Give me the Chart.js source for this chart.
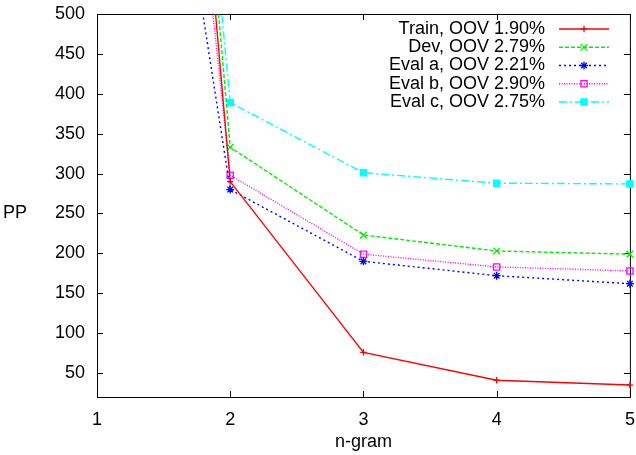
<!DOCTYPE html>
<html>
<head>
<meta charset="utf-8">
<title>Perplexity by n-gram order</title>
<script src="https://cdn.jsdelivr.net/npm/chart.js@4/dist/chart.umd.min.js"></script>
<style>
  html, body { margin: 0; padding: 0; background: #fff; }
  canvas { display: block; }
</style>
</head>
<body>
<canvas id="pp" width="636" height="455"></canvas>
<script>
// n-gram order on the x axis
const ngram = [1, 2, 3, 4, 5];

// perplexity per corpus
const train = [2200, 290, 76, 41, 35];
const dev   = [2245, 333, 223, 203, 199];
const evalA = [1350, 280, 190, 172, 162];
const evalB = [1850, 298, 199, 183, 178];
const evalC = [2135, 389, 301, 288, 287];

const seriesLabels = [
  'Train, OOV 1.90%',
  'Dev, OOV 2.79%',
  'Eval a, OOV 2.21%',
  'Eval b, OOV 2.90%',
  'Eval c, OOV 2.75%'
];

const xTicks = [1, 2, 3, 4, 5];
const yTicks = [50, 100, 150, 200, 250, 300, 350, 400, 450, 500];

const FONT = '"Liberation Sans", Arial, Helvetica, sans-serif';
const FONT_SIZE = 18;

function pts(values) {
  return ngram.map((n, i) => ({ x: n, y: values[i] }));
}

const styles = [
  { color: '#ff0000', dash: [],            point: 'cross',    radius: 3.2, fill: '#ff0000' },
  { color: '#00ee00', dash: [4, 2],        point: 'crossRot', radius: 4.8, fill: '#00ee00' },
  { color: '#0000ff', dash: [2, 3],        point: 'star',     radius: 4,   fill: '#0000ff' },
  { color: '#ff00ff', dash: [1, 1.5],      point: 'rect',     radius: 4.4, fill: 'rgba(0,0,0,0)' },
  { color: '#00ffff', dash: [8, 3, 2, 3],  point: 'rect',     radius: 4.4, fill: '#00ffff' }
];

const seriesValues = [train, dev, evalA, evalB, evalC];

const datasets = seriesValues.map((vals, i) => ({
  label: seriesLabels[i],
  data: pts(vals),
  borderColor: styles[i].color,
  borderWidth: 1.4,
  borderDash: styles[i].dash,
  pointStyle: styles[i].point,
  pointRadius: styles[i].radius,
  pointBorderColor: styles[i].color,
  pointBackgroundColor: styles[i].fill,
  pointBorderWidth: 1.3,
  fill: false,
  tension: 0,
  clip: { left: false, top: 0, right: false, bottom: false }
}));

// box around the plot with inward ticks on all four sides
const framePlugin = {
  id: 'frame',
  beforeDatasetsDraw(chart) {
    const { ctx, chartArea: a, scales } = chart;
    ctx.save();
    ctx.strokeStyle = '#000';
    ctx.lineWidth = 1;
    ctx.setLineDash([]);
    ctx.strokeRect(a.left + 0.5, a.top + 0.5, a.right - a.left, a.bottom - a.top);
    const len = 6;
    ctx.beginPath();
    yTicks.forEach(v => {
      const y = Math.round(scales.y.getPixelForValue(v)) + 0.5;
      ctx.moveTo(a.left, y); ctx.lineTo(a.left + len, y);
      ctx.moveTo(a.right, y); ctx.lineTo(a.right - len, y);
    });
    xTicks.forEach(v => {
      const x = Math.round(scales.x.getPixelForValue(v)) + 0.5;
      ctx.moveTo(x, a.bottom); ctx.lineTo(x, a.bottom - len);
      ctx.moveTo(x, a.top); ctx.lineTo(x, a.top + len);
    });
    ctx.stroke();
    ctx.restore();
  },
  afterDraw(chart) {
    const { ctx } = chart;
    ctx.save();
    ctx.font = FONT_SIZE + 'px ' + FONT;
    ctx.fillStyle = '#000';
    // horizontal y-axis label
    ctx.textAlign = 'center';
    ctx.textBaseline = 'middle';
    ctx.fillText('PP', 15, 213);

    // key: text first, then a line sample with its point symbol
    const textRight = 545, lineL = 559, lineR = 609, mid = 584;
    chart.data.datasets.forEach((ds, i) => {
      const y = 29 + i * 18.25;
      ctx.textAlign = 'right';
      ctx.textBaseline = 'middle';
      ctx.fillStyle = '#000';
      ctx.fillText(ds.label, textRight, y);
      ctx.save();
      ctx.strokeStyle = ds.borderColor;
      ctx.lineWidth = ds.borderWidth;
      ctx.setLineDash(ds.borderDash);
      ctx.beginPath();
      ctx.moveTo(lineL, y);
      ctx.lineTo(lineR, y);
      ctx.stroke();
      ctx.setLineDash([]);
      ctx.strokeStyle = ds.pointBorderColor;
      ctx.fillStyle = ds.pointBackgroundColor;
      ctx.lineWidth = ds.pointBorderWidth;
      Chart.helpers.drawPoint(ctx, {
        pointStyle: ds.pointStyle,
        radius: ds.pointRadius,
        rotation: 0,
        borderWidth: ds.pointBorderWidth
      }, mid, y);
      ctx.restore();
    });
    ctx.restore();
  }
};

Chart.defaults.color = '#000';
Chart.defaults.font.family = FONT;
Chart.defaults.font.size = FONT_SIZE;

new Chart(document.getElementById('pp'), {
  type: 'line',
  data: { datasets },
  options: {
    responsive: false,
    devicePixelRatio: 1,
    animation: false,
    layout: { padding: { top: 14, right: 2, left: 0, bottom: 0 } },
    plugins: {
      legend: { display: false },
      tooltip: { enabled: false }
    },
    scales: {
      x: {
        type: 'linear',
        min: 1,
        max: 5,
        grid: { display: false, drawTicks: false },
        border: { display: false },
        afterBuildTicks(s) { s.ticks = xTicks.map(v => ({ value: v })); },
        afterFit(s) { s.height = 58; s.paddingLeft = 0; s.paddingRight = 0; s.paddingTop = 0; s.paddingBottom = 0; },
        ticks: { padding: 12, maxRotation: 0, autoSkip: false, callback: v => String(v) },
        title: { display: true, text: 'n-gram', padding: { top: 0, bottom: 2 } }
      },
      y: {
        type: 'linear',
        min: 20,
        max: 500,
        grid: { display: false, drawTicks: false },
        border: { display: false },
        afterBuildTicks(s) { s.ticks = yTicks.map(v => ({ value: v })); },
        afterFit(s) { s.width = 97; s.paddingTop = 0; s.paddingBottom = 0; s.paddingLeft = 0; s.paddingRight = 0; },
        ticks: { padding: 12, autoSkip: false, callback: v => String(v) }
      }
    }
  },
  plugins: [framePlugin]
});
</script>
</body>
</html>
